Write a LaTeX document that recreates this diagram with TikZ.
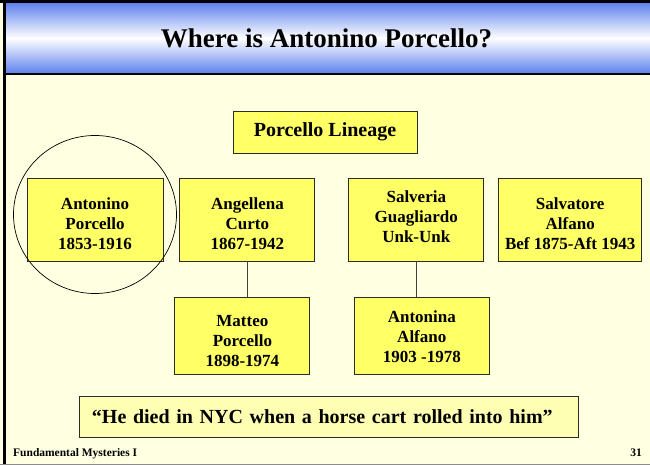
\documentclass[tikz,border=0pt]{standalone}
\usepackage{fontspec}
\setmainfont{Liberation Serif}
\usetikzlibrary{positioning}

\definecolor{slidebg}{RGB}{255,255,226}
\definecolor{hdrblue}{RGB}{96,130,238}
\definecolor{boxyellow}{RGB}{255,255,102}
\definecolor{quoteyellow}{RGB}{255,255,180}
\definecolor{boxline}{RGB}{45,45,35}

% pushes the lines of a box a little down / up
\newcommand{\lowtxt}{\rule{0pt}{20.5pt}}
\newcommand{\hightxt}{\rule[-5pt]{0pt}{5pt}}

\begin{document}
\begin{tikzpicture}[x=1pt,y=-1pt,
    person/.style={draw=boxline, fill=boxyellow, line width=0.9pt, minimum width=135pt, minimum height=83pt,
                   align=center, inner sep=2pt, font=\bfseries\fontsize{17}{20}\selectfont},
    headbox/.style={draw=boxline, fill=boxyellow, line width=0.9pt, minimum width=184pt, minimum height=42pt,
                    font=\bfseries\fontsize{20}{24}\selectfont},
    quotebox/.style={draw=boxline, fill=quoteyellow, line width=0.9pt, text width=474pt, inner xsep=12.5pt,
                     minimum height=41pt, align=left, font=\bfseries\fontsize{20}{24}\selectfont},
    footer/.style={inner sep=0pt, font=\bfseries\fontsize{11.5}{13}\selectfont},
    link/.style={draw=black!75, line width=0.8pt}]
  \useasboundingbox (0,0) rectangle (650,465);

  % slide frame
  \fill[slidebg] (0,0) rectangle (650,465);
  \shade[top color=hdrblue, bottom color=hdrblue, middle color=white] (3,3) rectangle (650,73);
  \fill[black] (0,0) rectangle (650,3);
  \fill[black] (2.5,0) rectangle (6,465);
  \draw[black, line width=2pt] (3,74) -- (650,74);
  \fill[black!45] (0,463.5) rectangle (650,465);

  \node[anchor=base, inner sep=0pt, font=\bfseries\fontsize{27}{32}\selectfont] (title) at (326.5,48) {Where is Antonino Porcello?};

  % family boxes
  \node[headbox]                          (lin) at (325,132)          {Porcello Lineage};
  \node[person, minimum width=136pt]      (ant) at (95,219.5)         {\lowtxt Antonino\\Porcello\\1853-1916};
  \node[person]                           (ang) [right=16pt of ant]   {\lowtxt Angellena\\Curto\\1867-1942};
  \node[person]                           (slv) [right=33pt of ang]   {Salveria\\Guagliardo\\Unk-Unk\hightxt};
  \node[person, minimum width=143pt]      (alf) [right=14pt of slv]   {\lowtxt Salvatore\\Alfano\\Bef 1875-Aft 1943};
  \node[person, minimum height=77pt]      (mat) [below=36pt of ang, xshift=-5pt]  {\lowtxt Matteo\\Porcello\\1898-1974};
  \node[person, minimum height=77pt]      (ana) [below=36pt of slv, xshift=5.5pt] {Antonina\\Alfano\\1903 -1978};

  \path[link] (ang.south) -- (ang.south |- mat.north);
  \path[link] (slv.south) -- (slv.south |- ana.north);

  \draw[black, line width=0.7pt] ([yshift=5pt]ant.center) ellipse [x radius=81.5pt, y radius=79pt];

  \node[quotebox, anchor=west] (quote) at (79,416.5) {``He died in NYC when a horse cart rolled into him''};

  \node[footer, anchor=base west] (ftl) at (13,456)  {Fundamental Mysteries I};
  \node[footer, anchor=base east] (fpg) at (642,456) {31};
\end{tikzpicture}
\end{document}
